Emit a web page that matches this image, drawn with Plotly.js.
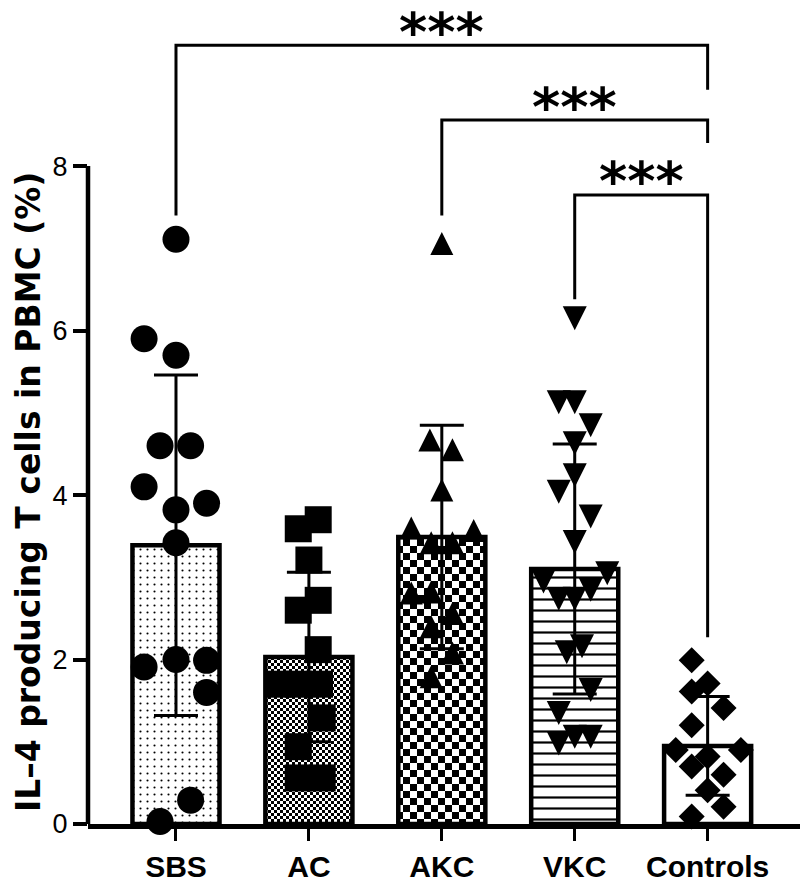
<!DOCTYPE html>
<html>
<head>
<meta charset="utf-8">
<script src="https://cdn.plot.ly/plotly-3.0.1.min.js"></script>
<style>body{margin:0;background:#fff}</style>
</head>
<body>
<div id="plot" style="width:800px;height:884px;"></div>
<script>
// Group names on the x axis
let groups = ['SBS', 'AC', 'AKC', 'VKC', 'Controls'];

// Bar heights (mean) and SD
let means = [3.39, 2.03, 3.49, 3.10, 0.95];
let sds = [2.07, 1.03, 1.36, 1.52, 0.60];

// Individual values per group, with the sideways offsets seen in the figure
let sbsVals = [7.11, 5.90, 5.70, 4.60, 4.60, 4.10, 3.90, 3.82, 3.42, 1.91, 2.00, 1.99, 1.60, 0.29, 0.03];
let sbsOffs = [0, -0.24, 0, -0.12, 0.11, -0.24, 0.23, 0, 0, -0.24, 0, 0.23, 0.23, 0.11, -0.12];

let acVals = [3.70, 3.59, 3.21, 2.72, 2.60, 2.12, 1.70, 1.70, 1.70, 1.29, 0.94, 0.56, 0.56];
let acOffs = [0.07, -0.08, 0, 0.07, -0.08, 0.07, -0.23, -0.08, 0.08, 0.10, -0.08, -0.08, 0.10];

let akcVals = [7.06, 4.67, 4.55, 4.06, 3.60, 3.57, 3.42, 3.42, 2.81, 2.82, 2.56, 2.40, 2.08, 1.79];
let akcOffs = [0, -0.09, 0.08, 0, -0.23, 0.24, -0.08, 0.08, -0.23, -0.08, 0.08, -0.08, 0.08, -0.08];

let vkcVals = [6.15, 5.13, 5.13, 4.85, 4.63, 4.24, 4.04, 3.74, 3.43, 3.05, 2.95, 2.85, 2.74, 2.74, 2.16, 2.09, 1.63, 1.35, 1.06, 1.06, 0.98];
let vkcOffs = [0, -0.12, 0, 0.12, 0, 0, -0.12, 0.12, 0, 0.245, -0.235, 0.12, -0.12, 0, 0.055, -0.06, 0.12, -0.12, 0, 0.12, -0.12];

let ctrlVals = [1.99, 1.71, 1.61, 1.41, 1.20, 0.90, 0.90, 0.82, 0.70, 0.60, 0.41, 0.21, 0.09];
let ctrlOffs = [-0.12, 0, -0.12, 0.12, -0.12, -0.24, 0.25, 0, -0.12, 0.12, 0, 0.12, -0.12];

// Significance brackets: from group, to group, height of bar, leg ends
let bracketFrom = [0, 2, 3];
let bracketTo = [4, 4, 4];
let bracketTop = [9.47, 8.56, 7.65];
let bracketLeftEnd = [7.40, 7.40, 6.38];
let bracketRightEnd = [8.93, 8.28, 2.27];
let bracketText = ['***', '***', '***'];

let pointSets = [sbsVals, acVals, akcVals, vkcVals, ctrlVals];
let offsetSets = [sbsOffs, acOffs, akcOffs, vkcOffs, ctrlOffs];

// Tall triangles: plotly arrow symbols have their tip on the point, so those
// traces sit on copies of the y axis shifted by half a marker height
let yMax = 10.02;
let pxPerUnit = 824 / yMax;
let symbols = ['circle', 'square', 'arrow-up', 'arrow-down', 'diamond'];
let symbolSizes = [27, 27, 23, 24, 20];
let axisFor = ['y', 'y', 'y2', 'y3', 'y'];
let upShift = 23 / 2 / pxPerUnit;
let downShift = 24 / 2 / pxPerUnit;

// Fill patterns for each bar
let patterns = [
    {shape: '.', size: 7, solidity: 0.07, fgcolor: 'black', bgcolor: 'white'},
    {path: 'M0,0H3V3H0Z M3,3H6V6H3Z', size: 6, fgcolor: 'black', bgcolor: 'white'},
    {path: 'M0,0H7V7H0Z M7,7H14V14H7Z', size: 14, fgcolor: 'black', bgcolor: 'white'},
    {shape: '-', size: 11, solidity: 0.2, fgcolor: 'black', bgcolor: 'white'},
    {shape: '', fgcolor: 'black', bgcolor: 'white'}
];

let data = [];

// Bars with SD error bars
for (let i = 0; i < groups.length; i++) {
    data.push({
        x: [i],
        y: [means[i]],
        type: 'bar',
        width: 0.655,
        marker: {
            color: 'white',
            pattern: patterns[i],
            line: {color: 'black', width: 4.5}
        },
        error_y: {type: 'data', array: [sds[i]], visible: true, color: 'black', thickness: 3, width: 22},
        hoverinfo: 'skip'
    });
}

// Individual points
for (let i = 0; i < groups.length; i++) {
    let xs = [];
    for (let j = 0; j < pointSets[i].length; j++) {
        xs.push(i + offsetSets[i][j]);
    }
    data.push({
        x: xs,
        y: pointSets[i],
        yaxis: axisFor[i],
        type: 'scatter',
        mode: 'markers',
        marker: {symbol: symbols[i], size: symbolSizes[i], color: 'black', line: {width: 0}},
        cliponaxis: false
    });
}

// Brackets and stars
let shapes = [];
let annotations = [];
for (let k = 0; k < bracketFrom.length; k++) {
    let x0 = bracketFrom[k], x1 = bracketTo[k];
    shapes.push({
        type: 'path',
        xref: 'x', yref: 'y',
        path: 'M' + x0 + ',' + bracketLeftEnd[k] + ' L' + x0 + ',' + bracketTop[k] +
              ' L' + x1 + ',' + bracketTop[k] + ' L' + x1 + ',' + bracketRightEnd[k],
        line: {color: 'black', width: 3}
    });
    annotations.push({
        x: (x0 + x1) / 2,
        y: bracketTop[k],
        xref: 'x', yref: 'y',
        text: bracketText[k],
        showarrow: false,
        yanchor: 'middle',
        yshift: 13,
        font: {family: 'DejaVu Sans', size: 54, color: 'black', weight: 'bold'}
    });
}

// y axis line only from 0 to 8
shapes.push({
    type: 'line', xref: 'paper', yref: 'y',
    x0: 0, x1: 0, y0: 0, y1: 8,
    line: {color: 'black', width: 4.5}
});

// y axis title
annotations.push({
    xref: 'paper', yref: 'paper',
    x: -0.0843, y: 0.404,
    xanchor: 'center', yanchor: 'middle',
    text: 'IL\u20134 producing T cells in PBMC (%)',
    textangle: -90,
    showarrow: false,
    font: {family: 'DejaVu Sans', size: 33, color: 'black', weight: 'bold'}
});

let hiddenAxis = {visible: false, overlaying: 'y', showgrid: false, zeroline: false, fixedrange: true};

let layout = {
    width: 800,
    height: 884,
    margin: {l: 88, r: 0, t: 0, b: 60},
    paper_bgcolor: 'white',
    plot_bgcolor: 'white',
    showlegend: false,
    barmode: 'overlay',
    xaxis: {
        range: [-0.662, 4.695],
        tickvals: [0, 1, 2, 3, 4],
        ticktext: groups,
        ticks: 'outside',
        ticklen: 12,
        tickwidth: 3,
        tickcolor: 'black',
        showline: true,
        linecolor: 'black',
        linewidth: 4.5,
        showgrid: false,
        zeroline: false,
        tickfont: {family: 'Liberation Sans', size: 30, color: 'black', weight: 'bold'}
    },
    yaxis: {
        range: [0, yMax],
        tickvals: [0, 2, 4, 6, 8],
        ticks: 'outside',
        ticklen: 14,
        tickwidth: 4,
        tickcolor: 'black',
        showline: false,
        showgrid: false,
        zeroline: false,
        tickfont: {family: 'Liberation Sans Narrow, Liberation Sans', size: 27, color: 'black'}
    },
    yaxis2: Object.assign({range: [-upShift, yMax - upShift]}, hiddenAxis),
    yaxis3: Object.assign({range: [downShift, yMax + downShift]}, hiddenAxis),
    shapes: shapes,
    annotations: annotations
};

Plotly.newPlot('plot', data, layout, {staticPlot: true, displayModeBar: false});
</script>
</body>
</html>
